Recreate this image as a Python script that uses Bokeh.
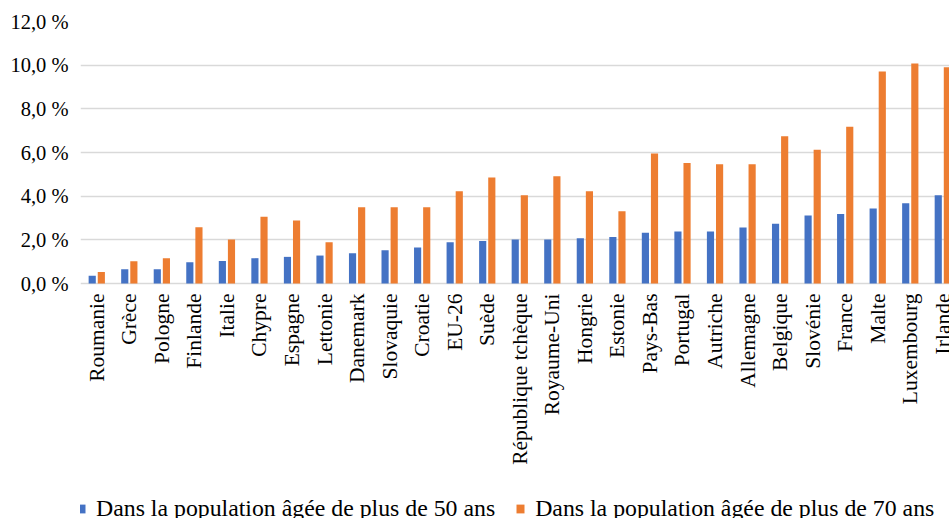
import math
import numpy as np
from bokeh.plotting import figure
from bokeh.models import (Range1d, FixedTicker, Legend, LegendItem, ColumnDataSource)
from bokeh.core.properties import value
from bokeh.embed import file_html
from bokeh.resources import INLINE

countries = ["Roumanie", "Grèce", "Pologne", "Finlande", "Italie", "Chypre",
             "Espagne", "Lettonie", "Danemark", "Slovaquie", "Croatie", "EU-26",
             "Suède", "République tchèque", "Royaume-Uni", "Hongrie", "Estonie",
             "Pays-Bas", "Portugal", "Autriche", "Allemagne", "Belgique",
             "Slovénie", "France", "Malte", "Luxembourg", "Irlande"]
over50 = [0.35, 0.65, 0.65, 0.97, 1.03, 1.16, 1.22, 1.28, 1.39, 1.52, 1.65, 1.89,
          1.95, 2.01, 2.01, 2.07, 2.13, 2.32, 2.38, 2.38, 2.56, 2.74, 3.11, 3.18,
          3.43, 3.67, 4.04]
over70 = [0.53, 1.02, 1.16, 2.58, 2.01, 3.06, 2.88, 1.89, 3.49, 3.49, 3.49, 4.22,
          4.85, 4.04, 4.91, 4.22, 3.31, 5.95, 5.52, 5.46, 5.46, 6.75, 6.13, 7.18,
          9.71, 10.08, 9.90]
y_ticks = [0, 2, 4, 6, 8, 10, 12]
y_tick_labels = ["0,0 %", "2,0 %", "4,0 %", "6,0 %", "8,0 %", "10,0 %", "12,0 %"]
series_names = ["Dans la population âgée de plus de 50 ans",
                "Dans la population âgée de plus de 70 ans"]

BLUE = "#4472C4"
ORANGE = "#ED7D31"
FONT = "Liberation Serif"

# layout (pixels)
W, H = 949, 518
left, top = 80, 21
zero_px = 283            # screen y of the 0 line
frame_w = W - left
frame_h = H - top
cat_px = 32.54
px_per_unit = (zero_px - top) / 12.0
y_start = -(H - zero_px) / px_per_unit

n = len(countries)
centers = np.arange(n) + 0.5
src = ColumnDataSource(dict(x50=centers - 0.14, x70=centers + 0.14,
                            v50=over50, v70=over70))
lab_src = ColumnDataSource(dict(x=centers, y=np.full(n, -10 / px_per_unit),
                                text=countries))

p = figure(frame_width=frame_w, frame_height=frame_h,
           x_range=Range1d(0, frame_w / cat_px), y_range=Range1d(y_start, 12),
           output_backend="svg", toolbar_location=None, x_axis_location=None,
           min_border_left=left, min_border_right=0, min_border_top=top,
           min_border_bottom=0)
p.outline_line_color = None
p.background_fill_color = "white"
p.border_fill_color = "white"

r1 = p.vbar(x="x50", top="v50", bottom=0, width=0.22, source=src,
            fill_color=BLUE, line_color=None)
r2 = p.vbar(x="x70", top="v70", bottom=0, width=0.22, source=src,
            fill_color=ORANGE, line_color=None)

# category labels (rotated, reading upward, ending just under the axis)
p.text(x="x", y="y", text="text", source=lab_src, angle=math.pi / 2,
       text_align="right", text_baseline="middle",
       text_font=value(FONT), text_font_size="21.5px", text_color="#000000")

# y axis
p.yaxis.ticker = FixedTicker(ticks=y_ticks)
p.yaxis.major_label_overrides = {t: l for t, l in zip(y_ticks, y_tick_labels)}
p.yaxis.axis_line_color = None
p.yaxis.major_tick_line_color = None
p.yaxis.minor_tick_line_color = None
p.yaxis.major_label_standoff = 6
p.yaxis.major_label_text_font = FONT
p.yaxis.major_label_text_font_size = "20.5px"
p.yaxis.major_label_text_color = "#000000"

p.xgrid.grid_line_color = None
p.ygrid.grid_line_color = "#D9D9D9"
p.ygrid.grid_line_width = 1.3
p.ygrid.ticker = FixedTicker(ticks=y_ticks)

legend = Legend(items=[LegendItem(label=series_names[0], renderers=[r1]),
                       LegendItem(label=series_names[1], renderers=[r2])],
                orientation="horizontal", location=(-4, -4))
legend.border_line_color = None
legend.background_fill_alpha = 0
legend.padding = 0
legend.margin = 0
legend.spacing = 20
legend.glyph_width = 10
legend.glyph_height = 11
legend.label_standoff = 10
legend.label_text_font = FONT
legend.label_text_font_size = "23.8px"
legend.label_text_color = "#000000"
p.add_layout(legend, "center")

open("out.html", "w").write(file_html(p, INLINE))
